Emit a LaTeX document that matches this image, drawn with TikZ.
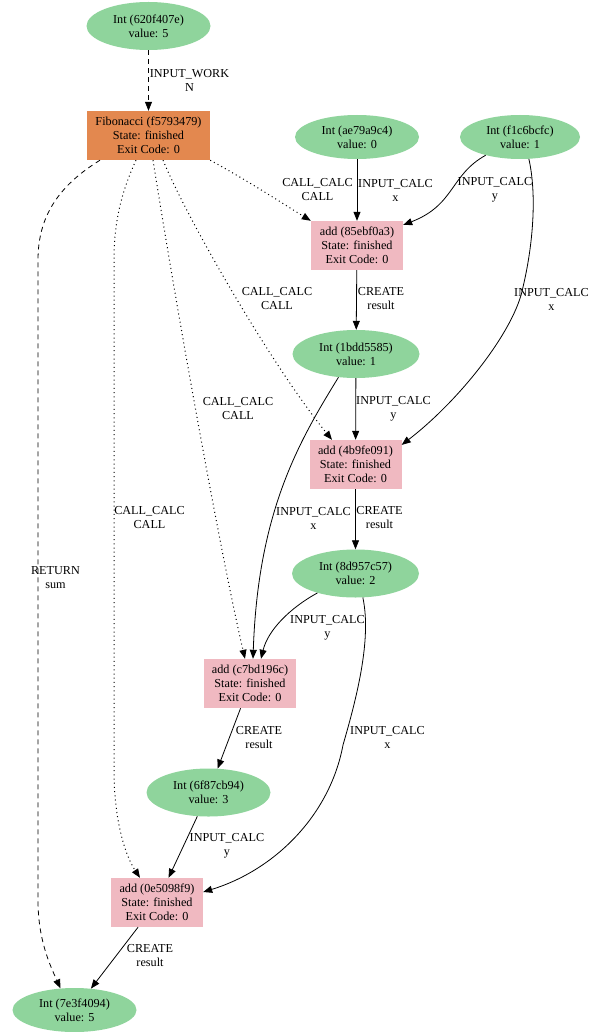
\documentclass[tikz,border=0pt]{standalone}
\usepackage{fontspec}
\setmainfont{Liberation Serif}
\usetikzlibrary{shapes.geometric,arrows.meta}
\definecolor{intgreen}{HTML}{8FD49C}
\definecolor{fibor}{HTML}{E3884F}
\definecolor{addpink}{HTML}{F0B9C1}
\begin{document}
\begin{tikzpicture}[x=1pt,y=-1pt,
  every node/.style={font=\fontsize{12.2}{14}\selectfont, align=center, inner sep=0pt},
  intnode/.style={ellipse, fill=intgreen, minimum width=124pt, minimum height=48pt},
  addnode/.style={rectangle, fill=addpink, minimum width=92pt, minimum height=49pt},
  fibnode/.style={rectangle, fill=fibor, minimum width=123pt, minimum height=49pt},
  edge/.style={line width=0.8pt, -{Triangle[length=9pt,width=7pt]}},
  calledge/.style={edge, line width=1pt, dash pattern=on 1pt off 3.2pt},
  workedge/.style={edge, dash pattern=on 5pt off 4pt},
  lbl/.style={}]
\useasboundingbox (0,0) rectangle (603,1032);

% nodes
\node[intnode] (n0) at (148.5,26) {Int (620f407e)\\value: 5};
\node[fibnode] (fib) at (148.5,135.5) {Fibonacci (f5793479)\\State: finished\\Exit Code: 0};
\node[intnode, minimum height=44pt] (n1) at (357,137) {Int (ae79a9c4)\\value: 0};
\node[intnode, minimum height=44pt, minimum width=120pt] (n2) at (520,137) {Int (f1c6bcfc)\\value: 1};
\node[addnode] (a1) at (357,245.5) {add (85ebf0a3)\\State: finished\\Exit Code: 0};
\node[intnode, minimum width=127pt] (n3) at (356,354) {Int (1bdd5585)\\value: 1};
\node[addnode] (a2) at (355.5,464.5) {add (4b9fe091)\\State: finished\\Exit Code: 0};
\node[intnode, minimum width=127pt] (n4) at (355.5,573.5) {Int (8d957c57)\\value: 2};
\node[addnode] (a3) at (250,683.5) {add (c7bd196c)\\State: finished\\Exit Code: 0};
\node[intnode] (n5) at (208.5,792.5) {Int (6f87cb94)\\value: 3};
\node[addnode] (a4) at (157,902.5) {add (0e5098f9)\\State: finished\\Exit Code: 0};
\node[intnode, minimum height=44pt] (n6) at (74.5,1010) {Int (7e3f4094)\\value: 5};

% edges
\draw[workedge] (n0) -- (fib);
\draw[calledge] (fib.south east) .. controls (250,182) and (285,205) .. (a1.north west);
\draw[edge] (n1) -- (a1);
\draw[edge] (n2.208) .. controls (450,175) and (455,205) .. (a1.24);
\draw[edge] (n2.292) .. controls (537,195) and (533,245) .. (523,287)
  .. controls (515,330) and (460,400) .. (a2.23);
\draw[edge] (a1) -- (n3);
\draw[calledge] ([xshift=14.5pt]fib.south) .. controls (190,225) and (275,370) .. ([xshift=-23.5pt]a2.north);
\draw[edge] (n3) -- (a2);
\draw[edge] (n3.233) .. controls (300,440) and (258,510) .. ([xshift=3pt]a3.north);
\draw[calledge] ([xshift=4.5pt]fib.south) .. controls (180,330) and (222,560) .. ([xshift=-5pt]a3.north);
\draw[edge] (a2) -- (n4);
\draw[edge] (n4.207) .. controls (290,608) and (268,630) .. ([xshift=11pt]a3.north);
\draw[edge] (n4.287) .. controls (372,640) and (356,700) .. (343,745)
  .. controls (330,815) and (275,870) .. ([yshift=10.5pt]a4.east);
\draw[calledge] ([xshift=-12.5pt]fib.south) .. controls (120,195) and (114,225) .. (114,260)
  -- (114,770) .. controls (114,820) and (125,855) .. ([xshift=-17pt]a4.north);
\draw[edge] (a3) -- (n5);
\draw[edge] (n5) -- (a4);
\draw[edge] (a4) -- (n6);
\draw[workedge] ([xshift=-48.5pt]fib.south) .. controls (60,185) and (38,215) .. (38,260)
  -- (38,900) .. controls (38,940) and (50,965) .. (n6.123);

% labels
\node[lbl] (l1) at (189.5,80) {INPUT\_WORK\\N};
\node[lbl] (l2) at (317.5,190) {CALL\_CALC\\CALL};
\node[lbl] (l3) at (395.5,190) {INPUT\_CALC\\x};
\node[lbl] (l4) at (495,190) {INPUT\_CALC\\y};
\node[lbl] (l5) at (551.5,299) {INPUT\_CALC\\x};
\node[lbl] (l6) at (381,299) {CREATE\\result};
\node[lbl] (l7) at (277,299) {CALL\_CALC\\CALL};
\node[lbl] (l8) at (393.5,409) {INPUT\_CALC\\y};
\node[lbl] (l9) at (238,409) {CALL\_CALC\\CALL};
\node[lbl] (l10) at (313.5,518) {INPUT\_CALC\\x};
\node[lbl] (l11) at (379.5,518) {CREATE\\result};
\node[lbl] (l12) at (149.5,518) {CALL\_CALC\\CALL};
\node[lbl] (l13) at (55.5,578) {RETURN\\sum};
\node[lbl] (l14) at (327.5,628) {INPUT\_CALC\\y};
\node[lbl] (l15) at (387.5,737.5) {INPUT\_CALC\\x};
\node[lbl] (l16) at (259,737.5) {CREATE\\result};
\node[lbl] (l17) at (227,846) {INPUT\_CALC\\y};
\node[lbl] (l18) at (150,956) {CREATE\\result};
\end{tikzpicture}
\end{document}
